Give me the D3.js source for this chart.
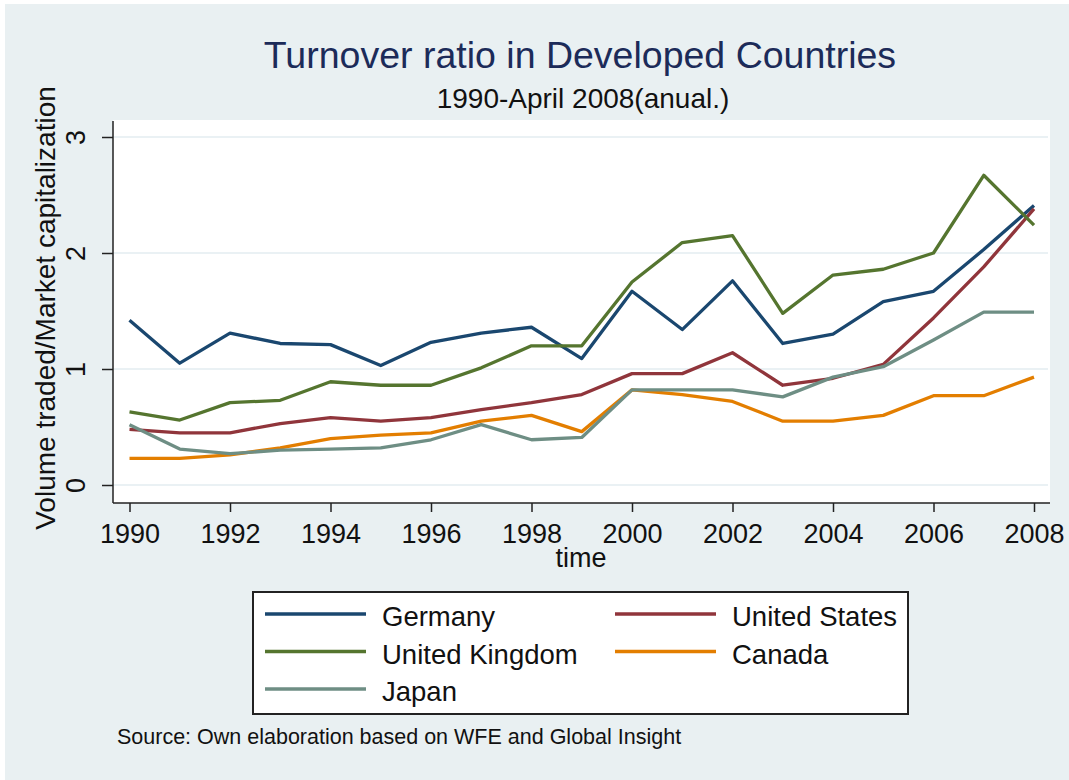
<!DOCTYPE html>
<html lang="en">
<head>
    <meta charset="UTF-8">
    <title>Turnover ratio</title>
    <script src="https://d3js.org/d3.v7.min.js"></script>
    <style>
        body {
            margin: 0;
            background: #fff;
            font-family: "Liberation Sans", Arial, sans-serif;
        }
        .axis text {
            font-size: 27px;
            fill: #111;
        }
        .grid line {
            stroke: #eaf1f4;
            stroke-width: 2px;
        }
        .series {
            fill: none;
            stroke-width: 3.3px;
            stroke-linejoin: round;
        }
    </style>
</head>
<body>
    <svg width="1069" height="780"></svg>
    <script>
        var years = [1990, 1991, 1992, 1993, 1994, 1995, 1996, 1997, 1998, 1999,
                     2000, 2001, 2002, 2003, 2004, 2005, 2006, 2007, 2008];

        var germany = [1.42, 1.05, 1.31, 1.22, 1.21, 1.03, 1.23, 1.31, 1.36, 1.09,
                       1.67, 1.34, 1.76, 1.22, 1.30, 1.58, 1.67, 2.03, 2.41];
        var unitedStates = [0.48, 0.45, 0.45, 0.53, 0.58, 0.55, 0.58, 0.65, 0.71, 0.78,
                            0.96, 0.96, 1.14, 0.86, 0.92, 1.04, 1.44, 1.88, 2.38];
        var unitedKingdom = [0.63, 0.56, 0.71, 0.73, 0.89, 0.86, 0.86, 1.01, 1.20, 1.20,
                             1.75, 2.09, 2.15, 1.48, 1.81, 1.86, 2.00, 2.67, 2.24];
        var canada = [0.23, 0.23, 0.26, 0.32, 0.40, 0.43, 0.45, 0.55, 0.60, 0.46,
                      0.82, 0.78, 0.72, 0.55, 0.55, 0.60, 0.77, 0.77, 0.93];
        var japan = [0.52, 0.31, 0.27, 0.30, 0.31, 0.32, 0.39, 0.52, 0.39, 0.41,
                     0.82, 0.82, 0.82, 0.76, 0.93, 1.02, 1.25, 1.49, 1.49];

        var seriesNames = ["Germany", "United States", "United Kingdom", "Canada", "Japan"];
        var seriesColors = ["#1a476f", "#90353b", "#55752f", "#e37e00", "#6e8e84"];
        var xTicks = [1990, 1992, 1994, 1996, 1998, 2000, 2002, 2004, 2006, 2008];
        var yTicks = [0, 1, 2, 3];

        var series = [germany, unitedStates, unitedKingdom, canada, japan].map(function(vals, i) {
            return {
                name: seriesNames[i],
                color: seriesColors[i],
                values: vals.map(function(v, j) { return {year: years[j], value: v}; })
            };
        });

        var svg = d3.select("svg");

        // graph region
        svg.append("rect")
            .attr("x", 5).attr("y", 4)
            .attr("width", 1064).attr("height", 776)
            .attr("fill", "#e9f0f2");

        var plot = {left: 113, right: 1050, top: 120, bottom: 503};

        var x = d3.scaleLinear().domain([1990, 2008]).range([129.5, 1034]);
        var y = d3.scaleLinear().domain([0, 3]).range([485, 137]);

        // plot region
        svg.append("rect")
            .attr("x", plot.left).attr("y", plot.top)
            .attr("width", plot.right - plot.left)
            .attr("height", plot.bottom - plot.top)
            .attr("fill", "#fff");

        // gridlines
        svg.append("g")
            .attr("class", "grid")
            .selectAll("line")
            .data(yTicks)
          .enter().append("line")
            .attr("x1", plot.left)
            .attr("x2", plot.right - 2)
            .attr("y1", function(d) { return y(d); })
            .attr("y2", function(d) { return y(d); });

        // series lines
        var line = d3.line()
            .x(function(d) { return x(d.year); })
            .y(function(d) { return y(d.value); });

        svg.append("g")
            .selectAll("path")
            .data(series)
          .enter().append("path")
            .attr("class", "series")
            .attr("stroke", function(d) { return d.color; })
            .attr("d", function(d) { return line(d.values); });

        // y axis
        var yAxis = svg.append("g")
            .attr("class", "axis")
            .attr("transform", "translate(" + plot.left + ",0)")
            .call(d3.axisLeft(y).tickValues(yTicks).tickSize(11).tickFormat(d3.format("d")));
        yAxis.select(".domain").remove();
        yAxis.selectAll(".tick line").attr("stroke", "#222").attr("stroke-width", 1.5);
        yAxis.selectAll(".tick text")
            .attr("x", null).attr("dy", null)
            .attr("transform", "translate(-28,0) rotate(-90)")
            .style("text-anchor", "middle");
        yAxis.append("line")
            .attr("x1", 0).attr("x2", 0)
            .attr("y1", 121).attr("y2", plot.bottom)
            .attr("stroke", "#222").attr("stroke-width", 1.5);

        // x axis
        var xAxis = svg.append("g")
            .attr("class", "axis")
            .attr("transform", "translate(0," + plot.bottom + ")")
            .call(d3.axisBottom(x).tickValues(xTicks).tickSize(9).tickPadding(5).tickFormat(d3.format("d")));
        xAxis.select(".domain").remove();
        xAxis.selectAll(".tick line").attr("stroke", "#222").attr("stroke-width", 1.5);
        xAxis.selectAll(".tick text").attr("dy", null).attr("y", 40);
        xAxis.append("line")
            .attr("x1", plot.left).attr("x2", plot.right)
            .attr("y1", 0).attr("y2", 0)
            .attr("stroke", "#222").attr("stroke-width", 1.5);

        // axis titles
        svg.append("text")
            .attr("x", 581)
            .attr("y", 567)
            .style("font-size", "27px")
            .style("text-anchor", "middle")
            .attr("fill", "#111")
            .text("time");

        svg.append("text")
            .attr("transform", "translate(55,308) rotate(-90)")
            .style("font-size", "28px")
            .style("text-anchor", "middle")
            .attr("fill", "#111")
            .text("Volume traded/Market capitalization");

        // titles
        svg.append("text")
            .attr("x", 580)
            .attr("y", 68)
            .style("font-size", "37.5px")
            .style("text-anchor", "middle")
            .attr("fill", "#1c2b59")
            .text("Turnover ratio in Developed Countries");

        svg.append("text")
            .attr("x", 583)
            .attr("y", 108)
            .style("font-size", "28px")
            .style("text-anchor", "middle")
            .attr("fill", "#111")
            .text("1990-April 2008(anual.)");

        // legend
        var legend = svg.append("g");
        legend.append("rect")
            .attr("x", 253).attr("y", 592)
            .attr("width", 655).attr("height", 122)
            .attr("fill", "#fff")
            .attr("stroke", "#222")
            .attr("stroke-width", 2);

        var items = legend.selectAll(".legend-item")
            .data(series)
          .enter().append("g")
            .attr("class", "legend-item")
            .attr("transform", function(d, i) {
                return "translate(" + (i % 2 === 0 ? 265 : 615) + "," + (614 + Math.floor(i / 2) * 37.5) + ")";
            });
        items.append("line")
            .attr("x1", 0).attr("x2", 101)
            .attr("y1", 0).attr("y2", 0)
            .attr("stroke", function(d) { return d.color; })
            .attr("stroke-width", 3.3);
        items.append("text")
            .attr("x", 117)
            .attr("y", 12)
            .style("font-size", "27.5px")
            .attr("fill", "#111")
            .text(function(d) { return d.name; });

        // source note
        svg.append("text")
            .attr("x", 117)
            .attr("y", 744)
            .style("font-size", "21.5px")
            .attr("fill", "#111")
            .text("Source: Own elaboration based on WFE and Global Insight");
    </script>
</body>
</html>
